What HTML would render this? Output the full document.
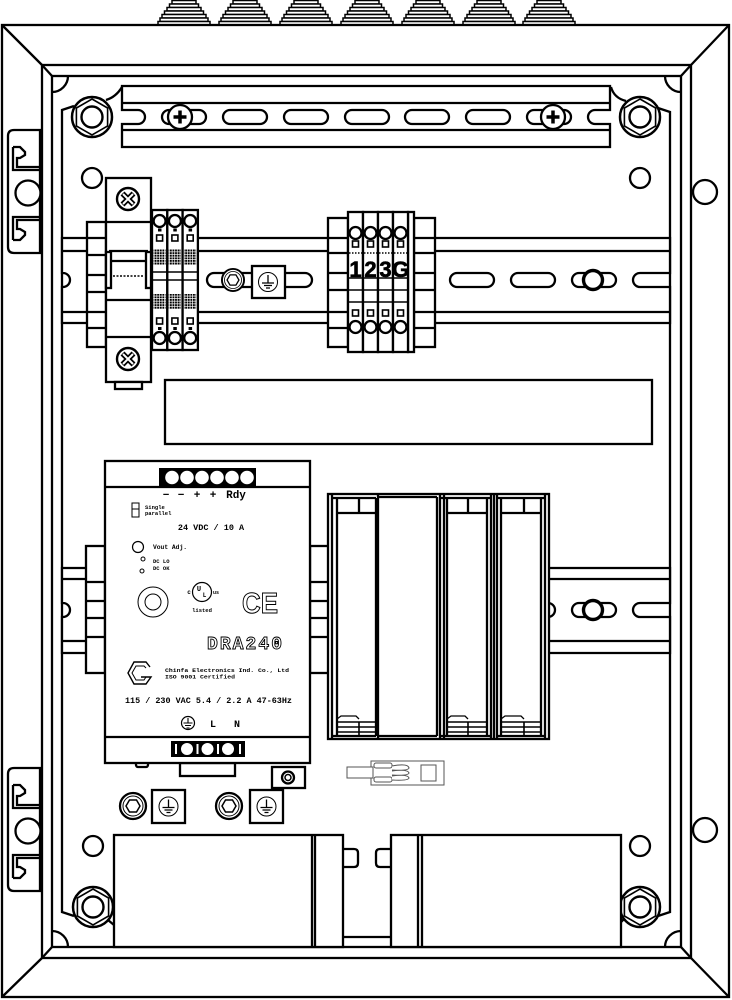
<!DOCTYPE html>
<html><head><meta charset="utf-8">
<style>
html,body{margin:0;padding:0;background:#fff;}
svg{display:block;}
.m{font-family:"Liberation Mono",monospace;font-weight:bold;}
.s{font-family:"Liberation Sans",sans-serif;font-weight:bold;}
</style></head><body>
<svg width="732" height="1000" viewBox="0 0 732 1000" xmlns="http://www.w3.org/2000/svg">
<defs>
 <pattern id="dots" width="2.6" height="2.6" patternUnits="userSpaceOnUse"><rect width="1.9" height="1.9" fill="#000"/></pattern>
 <g id="gland" fill="#fff" stroke="#000" stroke-width="1.5">
  <rect x="-12" y="0.5" width="24" height="3.5"/>
  <rect x="-14.5" y="4" width="29" height="3.5"/>
  <rect x="-17" y="7.5" width="34" height="3.5"/>
  <rect x="-19.5" y="11" width="39" height="3.5"/>
  <rect x="-22" y="14.5" width="44" height="3.5"/>
  <rect x="-24" y="18" width="48" height="3.5"/>
  <rect x="-26" y="21.5" width="52" height="3.5"/>
 </g>
 <g id="nut" stroke="#000">
  <circle r="20" fill="#fff" stroke-width="2.5"/>
  <polygon points="0,-18 15.6,-9 15.6,9 0,18 -15.6,9 -15.6,-9" fill="#fff" stroke-width="1.6"/>
  <circle r="10.5" fill="#fff" stroke-width="2.4"/>
 </g>
 <rect id="slot" x="-22" y="-7" width="44" height="14" rx="7" fill="#fff" stroke="#000" stroke-width="2.3"/>
 <g id="pscrew">
  <circle r="12" fill="#fff" stroke="#000" stroke-width="2.3"/>
  <path d="M-6.5,0 H6.5 M0,-6.5 V6.5" stroke="#000" stroke-width="3.5"/>
 </g>
 <g id="xscrew">
  <circle r="11" fill="#fff" stroke="#000" stroke-width="2.4"/>
  <path d="M-5.5,-5.5 L5.5,5.5 M5.5,-5.5 L-5.5,5.5" stroke="#000" stroke-width="5.5"/>
  <path d="M-5,-5 L5,5 M5,-5 L-5,5" stroke="#fff" stroke-width="2"/>
 </g>
 <g id="gnd">
  <circle r="9.5" fill="#fff" stroke="#000" stroke-width="1"/>
  <path d="M0,-7 V1 M-6,1 H6 M-4,3.5 H4 M-2,6 H2" stroke="#000" stroke-width="1.3" fill="none"/>
 </g>
 <g id="hexnut">
  <circle r="13" fill="#fff" stroke="#000" stroke-width="2.3"/>
  <circle r="10" fill="none" stroke="#000" stroke-width="1"/>
  <polygon points="7,0 3.5,6 -3.5,6 -7,0 -3.5,-6 3.5,-6" fill="#fff" stroke="#000" stroke-width="1.5"/>
 </g>
 <g id="hinge" fill="none" stroke="#000" stroke-width="2.3">
  <path d="M40,0 H14 Q8,0 8,6 V117 Q8,123 14,123 H40 Z" fill="#fff"/>
  <path d="M13,17 H20 L25,22 V25 L20,28 H17 V37 H40 M13,17 V40 H40"/>
  <path d="M13,110 H20 L25,105 V102 L20,99 H17 V90 H40 M13,110 V87 H40"/>
  <circle cx="28" cy="63" r="12.5" fill="#fff"/>
 </g>
 <g id="tc1">
  <rect x="0" y="210" width="15.3" height="140" fill="#fff" stroke="#000" stroke-width="2.3"/>
  <circle cx="7.6" cy="221" r="6" fill="#fff" stroke="#000" stroke-width="2.3"/>
  <rect x="6" y="228.5" width="3.5" height="3" fill="#000"/>
  <rect x="4.6" y="235" width="6" height="6" fill="#fff" stroke="#000" stroke-width="1.6"/>
  <rect x="1.5" y="249" width="12" height="16" fill="url(#dots)"/>
  <path d="M0,272 H15.3 M0,280 H15.3" stroke="#000" stroke-width="1.6"/>
  <rect x="1.5" y="294" width="12" height="15" fill="url(#dots)"/>
  <rect x="4.6" y="318" width="6" height="6" fill="#fff" stroke="#000" stroke-width="1.6"/>
  <rect x="6" y="327" width="3.5" height="3" fill="#000"/>
  <circle cx="7.6" cy="338" r="6" fill="#fff" stroke="#000" stroke-width="2.3"/>
 </g>
 <g id="tc2">
  <rect x="0" y="212" width="15" height="140" fill="#fff" stroke="#000" stroke-width="2.3"/>
  <circle cx="7.5" cy="233" r="6" fill="#fff" stroke="#000" stroke-width="2.3"/>
  <rect x="4.5" y="241" width="6" height="6" fill="#fff" stroke="#000" stroke-width="1.6"/>
  <path d="M1,253 H14" stroke="#000" stroke-width="1.6" stroke-dasharray="1.5,1.5"/>
  <path d="M0,278 H15 M0,290 H15 M0,302 H15" stroke="#000" stroke-width="1.6"/>
  <rect x="4.5" y="310" width="6" height="6" fill="#fff" stroke="#000" stroke-width="1.6"/>
  <circle cx="7.5" cy="327" r="6" fill="#fff" stroke="#000" stroke-width="2.3"/>
 </g>
</defs>

<!-- glands -->
<use href="#gland" x="184" y="0"/>
<use href="#gland" x="245" y="0"/>
<use href="#gland" x="306" y="0"/>
<use href="#gland" x="367" y="0"/>
<use href="#gland" x="428" y="0"/>
<use href="#gland" x="489" y="0"/>
<use href="#gland" x="549" y="0"/>

<!-- frame -->
<g fill="none" stroke="#000" stroke-width="2.3">
 <rect x="2" y="25" width="727" height="972"/>
 <rect x="42" y="65" width="649" height="893"/>
 <rect x="52" y="76" width="629" height="871"/>
 <path d="M2,25 L42,65 M729,25 L691,65 M2,997 L42,958 M729,997 L691,958 M42,65 L52,76 M691,65 L681,76 M42,958 L52,947 M691,958 L681,947"/>
 <path d="M52,92 A16,16 0 0 0 68,76 M665,76 A16,16 0 0 0 681,92 M68,947 A16,16 0 0 0 52,931 M681,931 A16,16 0 0 0 665,947"/>
 <path d="M74,106 L62,110 V912 L74,916 M658,108 L670,112 V912 L658,916"/>
 <path d="M106,100 Q116,97 122,87 M611,87 Q614,98 626,101 M108,920 L114,925 M621,922 L626,917"/>
</g>

<!-- hinges -->
<use href="#hinge" x="0" y="130"/>
<use href="#hinge" x="0" y="768"/>

<!-- frame holes -->
<g fill="#fff" stroke="#000" stroke-width="2.3">
 <circle cx="705" cy="192" r="12"/>
 <circle cx="705" cy="830" r="12"/>
 <circle cx="92" cy="178" r="10"/>
 <circle cx="640" cy="178" r="10"/>
 <circle cx="93" cy="846" r="10"/>
 <circle cx="640" cy="846" r="10"/>
</g>

<!-- top rail -->
<path d="M122,86 H610 V110 H595 A7,7 0 0 0 595,124 H610 V147 H122 V124 H138 A7,7 0 0 0 138,110 H122 Z" fill="#fff" stroke="#000" stroke-width="2.3"/>
<path d="M122,103 H610 M122,130 H610" stroke="#000" stroke-width="2.3"/>
<use href="#slot" x="184" y="117"/>
<use href="#slot" x="245" y="117"/>
<use href="#slot" x="306" y="117"/>
<use href="#slot" x="367" y="117"/>
<use href="#slot" x="427" y="117"/>
<use href="#slot" x="488" y="117"/>
<use href="#slot" x="549" y="117"/>
<use href="#pscrew" x="180" y="117"/>
<use href="#pscrew" x="553" y="117"/>

<!-- nuts -->
<use href="#nut" x="92" y="117"/>
<use href="#nut" x="640" y="117"/>
<use href="#nut" x="93" y="907"/>
<use href="#nut" x="640" y="907"/>

<!-- middle rail -->
<path d="M62,238 H670 V273 H640 A7,7 0 0 0 640,287 H670 V323 H62 V287 H63 A7,7 0 0 0 63,273 H62 Z" fill="#fff" stroke="#000" stroke-width="2.3"/>
<path d="M62,251 H670 M62,312 H670" stroke="#000" stroke-width="2.3"/>
<rect x="207" y="273" width="105" height="14" rx="7" fill="#fff" stroke="#000" stroke-width="2.3"/>
<use href="#slot" x="472" y="280"/>
<use href="#slot" x="533" y="280"/>
<use href="#slot" x="594" y="280"/>
<circle cx="593" cy="280" r="9.5" fill="#fff" stroke="#000" stroke-width="3.4"/>
<g transform="translate(233,280) scale(0.85)"><use href="#hexnut"/></g>
<rect x="252" y="266" width="33" height="32" fill="#fff" stroke="#000" stroke-width="2.3"/>
<use href="#gnd" x="268" y="282"/>

<!-- bottom rail -->
<path d="M62,568 H670 V603 H640 A7,7 0 0 0 640,617 H670 V653 H62 V617 H63 A7,7 0 0 0 63,603 H62 Z" fill="#fff" stroke="#000" stroke-width="2.3"/>
<path d="M62,579 H670 M62,641 H670" stroke="#000" stroke-width="2.3"/>
<use href="#slot" x="533" y="610"/>
<use href="#slot" x="594" y="610"/>
<circle cx="593" cy="610" r="9.5" fill="#fff" stroke="#000" stroke-width="3.4"/>

<!-- circuit breaker -->
<g fill="#fff" stroke="#000" stroke-width="2.3">
 <rect x="87" y="222" width="19" height="125"/>
 <path d="M87,238 H106 M87,255 H106 M87,275 H106 M87,292 H106 M87,312 H106 M87,328 H106" fill="none"/>
 <rect x="106" y="178" width="45" height="204"/>
 <path d="M106,222 H151 M109,251 H148 M111,261 H146 M106,300 H151 M106,337 H151" fill="none"/>
 <rect x="106" y="252" width="5" height="36"/>
 <rect x="146" y="252" width="5" height="36"/>
 <path d="M113,276 H144" stroke-dasharray="2,1.5" stroke-width="1.5" fill="none"/>
 <rect x="115" y="382" width="27" height="7"/>
</g>
<use href="#xscrew" x="128" y="199"/>
<use href="#xscrew" x="128" y="359"/>

<!-- terminal block 1 -->
<use href="#tc1" x="152" y="0"/>
<use href="#tc1" x="167.3" y="0"/>
<use href="#tc1" x="182.6" y="0"/>

<!-- terminal block 2 -->
<g fill="#fff" stroke="#000" stroke-width="2.3">
 <rect x="328" y="218" width="20" height="129"/>
 <rect x="414" y="218" width="21" height="129"/>
 <path d="M328,238 H348 M328,253 H348 M328,273 H348 M328,290 H348 M328,312 H348 M328,328 H348 M414,238 H435 M414,253 H435 M414,273 H435 M414,290 H435 M414,312 H435 M414,328 H435" fill="none"/>
 <rect x="408" y="212" width="6" height="140"/>
</g>
<use href="#tc2" x="348" y="0"/>
<use href="#tc2" x="363" y="0"/>
<use href="#tc2" x="378" y="0"/>
<use href="#tc2" x="393" y="0"/>
<g class="s" font-size="22" text-anchor="middle" fill="#000" stroke="#000" stroke-width="0.6">
 <text x="355.5" y="277">1</text>
 <text x="370.5" y="277">2</text>
 <text x="385.5" y="277">3</text>
 <text x="400.5" y="277">G</text>
</g>

<!-- label strip -->
<rect x="165" y="380" width="487" height="64" fill="#fff" stroke="#000" stroke-width="2.3"/>

<!-- PSU -->
<g stroke="#000" stroke-width="2.3" fill="#fff">
 <rect x="86" y="546" width="19" height="127"/>
 <rect x="310" y="546" width="20" height="127"/>
 <path d="M86,582 H105 M86,601 H105 M86,618 H105 M86,637 H105 M310,582 H330 M310,601 H330 M310,618 H330 M310,637 H330" fill="none"/>
 <rect x="180" y="763" width="55" height="13"/>
 <rect x="136" y="762" width="12" height="5" rx="2"/>
 <rect x="105" y="461" width="205" height="302"/>
 <path d="M105,487 H310 M105,737 H310" fill="none"/>
</g>
<rect x="159" y="468" width="97" height="19" fill="#000"/>
<g fill="#fff">
 <circle cx="172" cy="477.5" r="6.8"/>
 <circle cx="187" cy="477.5" r="6.8"/>
 <circle cx="202" cy="477.5" r="6.8"/>
 <circle cx="217" cy="477.5" r="6.8"/>
 <circle cx="232" cy="477.5" r="6.8"/>
 <circle cx="247" cy="477.5" r="6.8"/>
</g>
<rect x="171" y="741" width="74" height="16" fill="#000"/>
<g fill="#fff">
 <circle cx="187" cy="749" r="6"/>
 <circle cx="207.5" cy="749" r="6"/>
 <circle cx="228" cy="749" r="6"/>
 <rect x="175" y="744" width="2" height="10"/>
 <rect x="196.5" y="744" width="2" height="10"/>
 <rect x="217" y="744" width="2" height="10"/>
 <rect x="239" y="744" width="2" height="10"/>
</g>
<g class="m" fill="#000">
 <text x="166" y="498" font-size="11" text-anchor="middle">−</text>
 <text x="181" y="498" font-size="11" text-anchor="middle">−</text>
 <text x="197" y="498" font-size="11" text-anchor="middle">+</text>
 <text x="213" y="498" font-size="11" text-anchor="middle">+</text>
 <text x="236" y="498" font-size="11" text-anchor="middle">Rdy</text>
 <text x="145" y="509" font-size="5.5">Single</text>
 <text x="145" y="515" font-size="5.5">parallel</text>
 <text x="211" y="530" font-size="8.5" text-anchor="middle">24 VDC / 10 A</text>
 <text x="153" y="549" font-size="6.3">Vout Adj.</text>
 <text x="153" y="563" font-size="5.5">DC LO</text>
 <text x="153" y="570" font-size="5.5">DC OK</text>
 <text x="189" y="594" font-size="6" text-anchor="middle">c</text>
 <text x="216" y="594" font-size="5" text-anchor="middle">us</text>
 <text x="199" y="591" font-size="7" text-anchor="middle">U</text>
 <text x="204.5" y="597" font-size="6" text-anchor="middle">L</text>
 <text x="202" y="612" font-size="5.5" text-anchor="middle">listed</text>
 <text x="165" y="672" font-size="5.5" textLength="124" lengthAdjust="spacingAndGlyphs">Chinfa Electronics Ind. Co., Ltd</text>
 <text x="165" y="678.5" font-size="5.5" textLength="70" lengthAdjust="spacingAndGlyphs">ISO 9001 Certified</text>
 <text x="125" y="703" font-size="8.4" textLength="167" lengthAdjust="spacingAndGlyphs">115 / 230 VAC 5.4 / 2.2 A 47-63Hz</text>
 <text x="213" y="727" font-size="10" text-anchor="middle">L</text>
 <text x="237" y="727" font-size="10" text-anchor="middle">N</text>
</g>
<g fill="none" stroke="#000">
 <rect x="132" y="503" width="7" height="6" stroke-width="1"/>
 <rect x="132" y="509" width="7" height="8" stroke-width="1"/>
 <circle cx="138" cy="547" r="5.5" stroke-width="1.2"/>
 <circle cx="143" cy="559" r="2" stroke-width="1"/>
 <circle cx="142" cy="571" r="2" stroke-width="1"/>
 <circle cx="153" cy="602" r="15" stroke-width="1"/>
 <circle cx="153" cy="602" r="8" stroke-width="1"/>
 <circle cx="202" cy="592" r="9.5" stroke-width="1.2"/>
 <path d="M150,667 L146,662 H134 L128,673 L134,684 H146 L151,677 H141" stroke-width="1.4"/>
 <path d="M146,668 L144,666 H136 L132,673 L136,680 H144 L146,677" stroke-width="1"/>
 <circle cx="188" cy="723" r="6.5" stroke-width="1.2"/>
 <path d="M188,718 V723 M183.5,723 H192.5 M185,725.5 H191 M186.5,728 H189.5" stroke-width="1.1"/>
</g>
<text x="242" y="613" class="s" font-size="29" font-weight="normal" fill="#fff" stroke="#000" stroke-width="1" textLength="36" lengthAdjust="spacingAndGlyphs">CE</text>
<text x="207" y="649" class="m" font-size="18" font-weight="normal" fill="#fff" stroke="#000" stroke-width="0.9" textLength="75" lengthAdjust="spacing">DRA240</text>

<!-- ground block under psu -->
<rect x="272" y="767" width="33" height="21" fill="#fff" stroke="#000" stroke-width="2.3"/>
<circle cx="288" cy="777.5" r="6" fill="#fff" stroke="#000" stroke-width="2.3"/>
<circle cx="288" cy="777.5" r="3" fill="none" stroke="#000" stroke-width="1.5"/>

<!-- ground studs -->
<use href="#hexnut" x="133" y="806"/>
<rect x="152" y="790" width="33" height="33" fill="#fff" stroke="#000" stroke-width="2.3"/>
<use href="#gnd" x="168.5" y="806.5"/>
<use href="#hexnut" x="229" y="806"/>
<rect x="250" y="790" width="33" height="33" fill="#fff" stroke="#000" stroke-width="2.3"/>
<use href="#gnd" x="266.5" y="806.5"/>

<!-- relay modules -->
<g fill="none" stroke="#000" stroke-width="2.3">
 <rect x="328" y="494" width="221" height="245" fill="#fff"/>
 <path d="M332,494 V739 M337,498 V736 M376,498 V736 M378,494 V739 M437,497 V736 M440,494 V739 M444,494 V739 M447,498 V736 M487,498 V736 M491,494 V739 M494,494 V739 M497,494 V739 M501,498 V736 M541,498 V736 M545,494 V739"/>
 <path d="M332,498 H376 M440,498 H491 M497,498 H545 M378,497 H437"/>
 <path d="M337,513 H376 M447,513 H487 M501,513 H541 M359,498 V513 M468,498 V513 M524,498 V513"/>
 <path d="M332,736 H376 M440,736 H491 M497,736 H545 M378,736 H437"/>
 <path d="M337,722 H376 M447,722 H487 M501,722 H541 M337,727 H376 M447,727 H487 M501,727 H541 M337,732 H376 M447,732 H487 M501,732 H541 M359,722 V736 M468,722 V736 M524,722 V736" stroke-width="1.6"/>
 <path d="M337,719 L341,716 H356 L359,719 M447,719 L451,716 H465 L468,719 M501,719 L505,716 H521 L524,719" stroke-width="1.3"/>
</g>

<!-- small connector -->
<g fill="#fff" stroke="#555" stroke-width="1">
 <rect x="371" y="761" width="73" height="24"/>
 <rect x="347" y="767" width="26" height="11"/>
 <rect x="374" y="763" width="18" height="5" rx="2"/>
 <rect x="374" y="777" width="18" height="5" rx="2"/>
 <path d="M392,766 Q408,763 409,768 Q408,771 392,770 M392,771 Q408,769 409,773 Q408,776 392,775 M392,776 Q408,774 409,778 Q408,781 392,780"/>
 <rect x="421" y="765" width="15" height="16"/>
</g>

<!-- bottom boxes -->
<g fill="#fff" stroke="#000" stroke-width="2.3">
 <path d="M343,937 H391" fill="none"/>
 <path d="M343,849 H354 Q358,849 358,853 V863 Q358,867 354,867 H343"/>
 <path d="M391,849 H380 Q376,849 376,853 V863 Q376,867 380,867 H391"/>
 <rect x="114" y="835" width="229" height="112"/>
 <path d="M312,835 V947 M315,835 V947" fill="none"/>
 <rect x="391" y="835" width="230" height="112"/>
 <path d="M418,835 V947 M422,835 V947" fill="none"/>
</g>
</svg>
</body></html>
